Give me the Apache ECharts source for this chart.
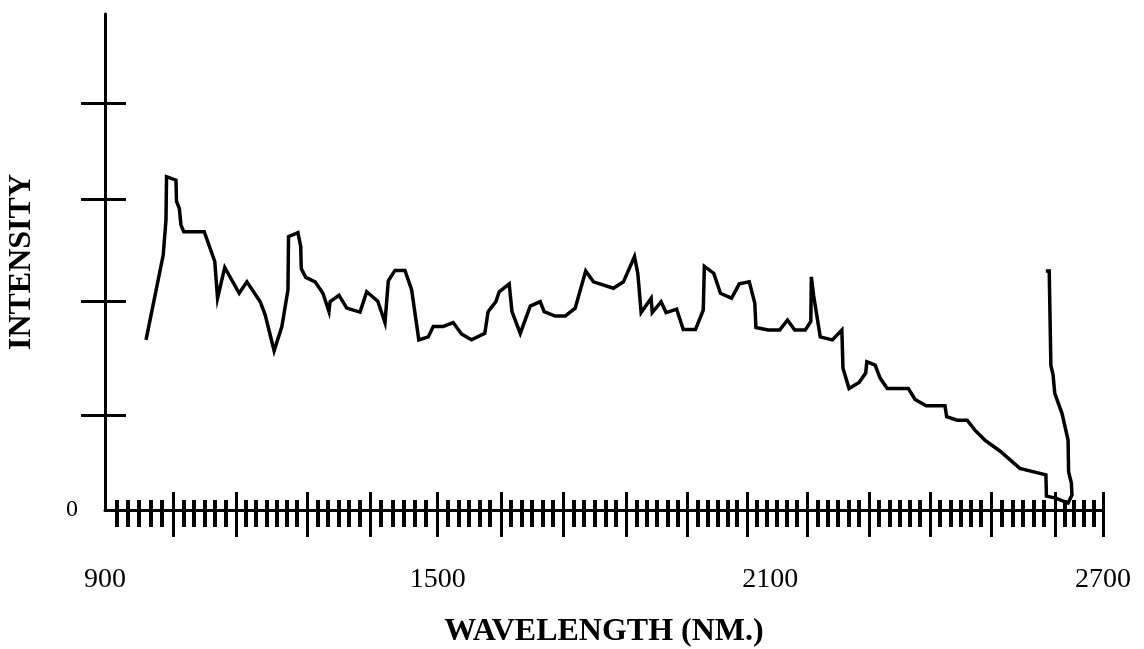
<!DOCTYPE html>
<html>
<head>
<meta charset="utf-8">
<script src="https://cdn.jsdelivr.net/npm/echarts@6/dist/echarts.min.js"></script>
<style>
html,body{margin:0;padding:0;background:#fff;}
#chart{width:1144px;height:649px;}
</style>
</head>
<body>
<div id="chart"></div>
<script>
// ---- data ----
const wavelength = [
  974,1005,1010,1011,1028,1029,1034,1037,1042,1079,1098,1103,1116,1142,1156,1180,1189,1205,1219,1230,
  1231,1248,1253,1254,1262,1279,1293,1304,1306,1322,1336,1360,1372,1392,1405,1411,1423,1441,1453,1466,
  1483,1492,1510,1528,1543,1561,1585,1591,1605,1611,1629,1634,1649,1667,1685,1692,1712,1730,1748,1767,
  1781,1817,1835,1855,1861,1867,1885,1887,1903,1912,1931,1943,1965,1979,1981,1998,2010,2030,2044,2062,
  2072,2074,2096,2117,2131,2144,2163,2173,2174,2178,2190,2212,2229,2231,2242,2260,2272,2274,2289,2298,
  2311,2349,2361,2381,2415,2418,2437,2455,2469,2487,2514,2550,2597,2598,2615,2637,2644,2643,2638,2637,
  2626,2613,2610,2606,2603,2597
];
const intensity = [
  34.3,51.4,58.5,67.2,66.5,62.2,60.8,57.5,56.1,56.1,50.1,42.7,48.9,43.7,46.0,42.0,39.3,32.1,37.0,44.4,
  55.1,55.9,53.1,48.7,46.9,46.0,43.7,40.0,42.0,43.3,40.7,39.9,44.0,42.1,37.8,46.2,48.3,48.3,44.4,34.3,
  34.9,37.0,37.0,37.8,35.5,34.3,35.6,40.0,42.0,44.0,45.6,40.0,35.6,41.1,42.0,40.0,39.1,39.1,40.7,48.2,
  46.0,44.7,46.0,51.1,47.7,39.8,42.7,39.8,42.0,39.8,40.5,36.4,36.4,40.3,49.1,47.7,43.7,42.7,45.6,46.0,
  41.7,36.8,36.3,36.3,38.3,36.3,36.3,38.0,47.0,43.3,34.9,34.3,36.3,28.6,24.5,25.7,27.6,29.9,29.2,26.6,
  24.5,24.5,22.3,21.0,21.0,18.8,18.1,18.1,16.1,14.1,11.9,8.4,7.1,2.8,2.4,1.4,3.0,5.4,7.7,14.1,
  19.5,23.5,27.2,29.2,48.2,48.2
];
const xLabels = [900, 1500, 2100, 2700];
const xMajorTicks = [1023,1136,1264,1378,1499,1614,1726,1841,1951,2058,2166,2278,2388,2498,2613,2700];
const yTicks = [19.2, 42.1, 62.7, 82.1];
const yLabels = [0];
const xMin = 900, xMax = 2700, yMin = 0, yMax = 100;

// minor ticks: subdivide each major interval
const bounds = [xMin].concat(xMajorTicks);
const xMinorTicks = [];
for (let i = 0; i < bounds.length - 1; i++) {
  const a = bounds[i], b = bounds[i + 1];
  const n = Math.max(1, Math.round((b - a) / 19));
  for (let k = 1; k < n; k++) xMinorTicks.push(a + (b - a) * k / n);
}

const points = wavelength.map((w, i) => [w, intensity[i]]);
const serif = '"Liberation Serif", "Times New Roman", serif';

function xAx(extra) {
  return Object.assign({
    type: 'value', min: xMin, max: xMax, position: 'bottom',
    axisLine: { show: false, onZero: false },
    axisLabel: { show: false },
    splitLine: { show: false },
    axisTick: { show: false }
  }, extra);
}
function yAx(extra) {
  return Object.assign({
    type: 'value', min: yMin, max: yMax, position: 'left',
    axisLine: { show: false, onZero: false },
    axisLabel: { show: false },
    splitLine: { show: false },
    axisTick: { show: false }
  }, extra);
}

const chart = echarts.init(document.getElementById('chart'));
chart.setOption({
  animation: false,
  backgroundColor: '#fff',
  grid: { left: 105, right: 41, top: 14, bottom: 139, containLabel: false, outerBoundsMode: 'none' },
  xAxis: [
    xAx({
      axisLine: { show: true, onZero: false, lineStyle: { color: '#000', width: 3 } },
      axisTick: { show: true, inside: false, length: 27, customValues: xMajorTicks, lineStyle: { color: '#000', width: 3 } },
      axisLabel: { show: true, customValues: xLabels, margin: 56, color: '#000', fontFamily: serif, fontSize: 28,
        formatter: v => String(v) },
      name: 'WAVELENGTH (NM.)', nameLocation: 'middle', nameGap: 106,
      nameTextStyle: { color: '#000', fontFamily: serif, fontWeight: 'bold', fontSize: 32 }
    }),
    xAx({ axisTick: { show: true, inside: true, length: 18, customValues: xMajorTicks, lineStyle: { color: '#000', width: 3 } } }),
    xAx({ axisTick: { show: true, inside: false, length: 17, customValues: xMinorTicks, lineStyle: { color: '#000', width: 4 } } }),
    xAx({ axisTick: { show: true, inside: true, length: 10, customValues: xMinorTicks, lineStyle: { color: '#000', width: 4 } } })
  ],
  yAxis: [
    yAx({
      axisLine: { show: true, onZero: false, lineStyle: { color: '#000', width: 3 } },
      axisTick: { show: true, inside: false, length: 24, customValues: yTicks, lineStyle: { color: '#000', width: 3 } },
      axisLabel: { show: true, customValues: yLabels, margin: 27, color: '#000', fontFamily: serif, fontSize: 24,
        padding: [20, 0, 0, 0], formatter: v => String(v) },
      name: 'INTENSITY', nameLocation: 'middle', nameGap: 67,
      nameTextStyle: { color: '#000', fontFamily: serif, fontWeight: 'bold', fontSize: 32 }
    }),
    yAx({ axisTick: { show: true, inside: true, length: 21, customValues: yTicks, lineStyle: { color: '#000', width: 3 } } })
  ],
  series: [{
    type: 'line',
    xAxisIndex: 0, yAxisIndex: 0,
    data: points,
    symbol: 'none',
    smooth: false,
    lineStyle: { color: '#000', width: 3.5, join: 'miter' }
  }]
});
</script>
</body>
</html>
